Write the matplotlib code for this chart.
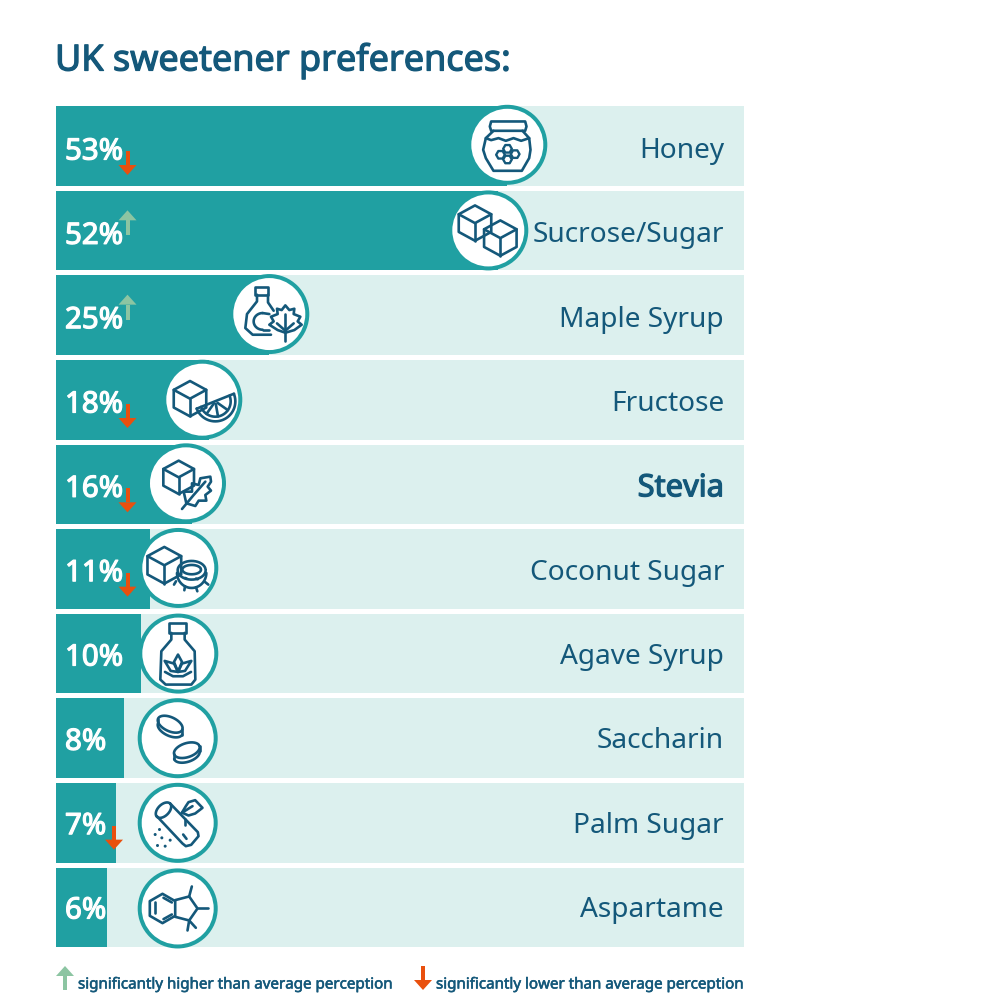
import numpy as np
import matplotlib
matplotlib.use("Agg")
import matplotlib.pyplot as plt
import matplotlib.patheffects as pe
from matplotlib.patches import Circle, Polygon, Rectangle

# data
categories = ["Honey", "Sucrose/Sugar", "Maple Syrup", "Fructose", "Stevia",
              "Coconut Sugar", "Agave Syrup", "Saccharin", "Palm Sugar", "Aspartame"]
values = [53, 52, 25, 18, 16, 11, 10, 8, 7, 6]
# 1 = significantly higher, -1 = significantly lower, 0 = nothing
changes = [-1, 1, 1, -1, -1, -1, 0, 0, -1, 0]
title = "UK sweetener preferences:"
legend_high = "significantly higher than average perception"
legend_low = "significantly lower than average perception"

TEAL = "#20a0a2"
LIGHT = "#dcf0ee"
NAVY = "#14587a"
RED = "#e9500e"
GREEN = "#8cc5a2"
FONT = "Noto Sans"

# layout in pixels of the 1000x1000 picture
LEFT, RIGHT, TOP, BOTTOM = 56, 744, 106, 947.3
PITCH = 84.63
TEXT_PITCH = 84.33
BAR_H = 79.6
PX_PER_PCT = 8.5
ring_x = [507.3, 488.3, 269.3, 202.3, 186, 178.3, 178.3, 177.7, 177.7, 177.7]
icon_x = [508.5, 490, 271, 204, 187, 180, 179, 178.5, 178.5, 178.5]
icon_y_shift = [-1, 0, -1, 0, -1, -1, 0, 0, 0, 1]

fig = plt.figure(figsize=(10, 10), dpi=100)

# bars
ax = fig.add_axes([LEFT / 1000, 1 - BOTTOM / 1000, (RIGHT - LEFT) / 1000, (BOTTOM - TOP) / 1000])
rows = np.arange(len(categories))
x_max = (RIGHT - LEFT) / PX_PER_PCT
ax.barh(rows, [x_max] * len(rows), height=BAR_H / PITCH, color=LIGHT)
ax.barh(rows, values, height=BAR_H / PITCH, color=TEAL)
ax.set_xlim(0, x_max)
ax.set_ylim(len(rows) - 1 + BAR_H / PITCH / 2, -BAR_H / PITCH / 2)
ax.axis("off")

# everything else sits on a pixel overlay
ov = fig.add_axes([0, 0, 1, 1], zorder=5)
ov.set_xlim(0, 1000)
ov.set_ylim(1000, 0)
ov.axis("off")
ov.patch.set_alpha(0)


def bold_text(x, y, s, size, color, stroke=0.7, **kw):
    # Noto Sans is only installed as a regular weight here, so thicken it
    t = ov.text(x, y, s, fontsize=size, color=color, family=FONT, va="center", **kw)
    t.set_path_effects([pe.withStroke(linewidth=stroke, foreground=color)])
    return t


def line(cx, cy, pts, closed=False, lw=1.9):
    # pts are offsets in 3x pixels from the icon centre
    xy = [(cx + p[0] / 3, cy + p[1] / 3) for p in pts]
    ov.add_patch(Polygon(xy, closed=closed, fill=False, edgecolor=NAVY,
                         lw=lw, joinstyle="round", capstyle="round", zorder=8))


def curve(cx, cy, x0, y0, rx, ry, a0, a1, angle=0, lw=1.9):
    t = np.radians(np.linspace(a0, a1, 40))
    r = np.radians(angle)
    x = rx * np.cos(t)
    y = ry * np.sin(t)
    xs = x0 + x * np.cos(r) - y * np.sin(r)
    ys = y0 + x * np.sin(r) + y * np.cos(r)
    line(cx, cy, list(zip(xs, ys)), lw=lw)


def cube(cx, cy, x0, y0, r):
    w = r * 0.92
    h = r * 0.5
    line(cx, cy, [(x0, y0 - r), (x0 + w, y0 - h), (x0 + w, y0 + h), (x0, y0 + r),
                  (x0 - w, y0 + h), (x0 - w, y0 - h)], closed=True)
    line(cx, cy, [(x0 - w, y0 - h), (x0, y0), (x0 + w, y0 - h)])
    line(cx, cy, [(x0, y0), (x0, y0 + r)])


def hexagon(cx, cy, x0, y0, r):
    a = np.radians(np.arange(0, 360, 60))
    line(cx, cy, list(zip(x0 + r * np.cos(a), y0 + r * np.sin(a))), closed=True, lw=1.7)


def honey_icon(cx, cy):
    line(cx, cy, [(-52, -70), (50, -70), (54, -55), (50, -42), (-52, -42), (-56, -55)], closed=True)
    line(cx, cy, [(-45, -42), (-68, -20), (-52, -14), (-30, -20), (-8, -12), (15, -20), (38, -12), (62, -20), (42, -42)])
    line(cx, cy, [(-68, -20), (-76, 15), (-68, 40), (-45, 78), (40, 78), (62, 40), (66, 15), (62, -20)])
    for hx, hy in [(-3, 12), (-24, 30), (-3, 44), (20, 28)]:
        hexagon(cx, cy, hx, hy, 13)


def sugar_icon(cx, cy):
    cube(cx, cy, -45, -22, 53)
    cube(cx, cy, 31, 23, 53)


def maple_icon(cx, cy):
    line(cx, cy, [(-47, -81), (-9, -81), (-9, -58), (-47, -58)], closed=True)
    line(cx, cy, [(-42, -58), (-42, -38), (-72, 0), (-77, 42), (-55, 62), (0, 62)])
    line(cx, cy, [(-9, -58), (-9, -35), (8, -10)])
    curve(cx, cy, -25, 22, 27, 25, 90, 270)
    line(cx, cy, [(-25, -3), (-5, 0)])
    line(cx, cy, [(-25, 47), (-5, 47)])
    line(cx, cy, [(43, -26), (55, -12), (70, -16), (68, 0), (88, 8), (80, 22), (92, 32), (70, 48),
                  (43, 56), (20, 48), (-5, 32), (8, 22), (0, 8), (20, 0), (18, -16), (32, -12)], closed=True)
    line(cx, cy, [(43, 0), (43, 82)])
    line(cx, cy, [(43, 50), (18, 28)])
    line(cx, cy, [(43, 50), (68, 28)])


def fructose_icon(cx, cy):
    cube(cx, cy, -42, -3, 53)
    curve(cx, cy, 34, 5, 60, 60, -22, 159)
    curve(cx, cy, 34, 5, 46, 46, -22, 159)
    line(cx, cy, [(-22, 27), (90, -18)])
    for a in (35, 80, 125):
        t = np.radians(a)
        line(cx, cy, [(34 + 8 * np.cos(t), 5 + 8 * np.sin(t)), (34 + 46 * np.cos(t), 5 + 46 * np.sin(t))])


def stevia_icon(cx, cy):
    cube(cx, cy, -25, -18, 50)
    line(cx, cy, [(-15, 77), (20, 35), (55, -5)])
    line(cx, cy, [(-2, 60), (-10, 25), (15, 25), (15, 0), (35, 5), (40, -15), (70, -20), (72, -5),
                  (62, 10), (72, 22), (55, 35), (58, 52), (35, 52), (25, 68)], closed=True)


def coconut_icon(cx, cy):
    cube(cx, cy, -47, -8, 55)
    curve(cx, cy, 35, 7, 42, 28, 0, 360)
    curve(cx, cy, 35, 5, 28, 14, 0, 360)
    curve(cx, cy, 35, 15, 44, 45, 0, 180)
    for hx, hy, dx, dy in [(-12, 40, -6, 10), (15, 55, -2, 12), (48, 58, 4, 12), (75, 42, 10, 8)]:
        line(cx, cy, [(hx, hy), (hx + dx, hy + dy)])
    line(cx, cy, [(15, 30), (20, 32)])
    line(cx, cy, [(48, 32), (53, 34)])


def agave_icon(cx, cy):
    line(cx, cy, [(-30, -92), (20, -92), (20, -62), (-30, -62)], closed=True)
    line(cx, cy, [(-23, -62), (-23, -42), (-53, -7), (-56, 78), (-40, 93), (37, 93), (49, 78), (47, -7), (17, -42), (17, -62)])
    line(cx, cy, [(-3, 3), (-15, 25), (-3, 55), (9, 25)], closed=True)
    line(cx, cy, [(-43, 22), (-15, 30), (-3, 55), (-25, 52)], closed=True)
    line(cx, cy, [(37, 22), (9, 30), (-3, 55), (18, 52)], closed=True)
    line(cx, cy, [(-42, 55), (-18, 68), (12, 68), (36, 55)])


def pill(cx, cy, x0, y0, angle):
    curve(cx, cy, x0, y0 - 7, 40, 21, 0, 360, angle=angle)
    curve(cx, cy, x0, y0 + 7, 40, 21, 0, 180, angle=angle)
    r = np.radians(angle)
    for s in (-1, 1):
        px = x0 + s * 40 * np.cos(r)
        py = y0 + s * 40 * np.sin(r)
        line(cx, cy, [(px, py - 7), (px, py + 7)])


def saccharin_icon(cx, cy):
    pill(cx, cy, -25, -35, 25)
    pill(cx, cy, 25, 43, -18)


def palm_icon(cx, cy):
    curve(cx, cy, -45, -38, 28, 17, 0, 360, angle=-45)
    line(cx, cy, [(-65, -20), (12, 62), (22, 70), (38, 66), (60, 40), (58, 28), (-25, -58)])
    line(cx, cy, [(18, 5), (18, -12)])
    line(cx, cy, [(14, 35), (24, 48)])
    line(cx, cy, [(10, -30), (22, -50), (30, -62), (50, -68), (72, -45), (50, -28), (30, -22), (12, -30)], closed=True)
    line(cx, cy, [(10, -30), (42, -50)])
    for dx, dy in [(-57, 20), (-70, 35), (-50, 45), (-25, 52), (-63, 68), (-40, 70)]:
        ov.add_patch(Circle((cx + dx / 3, cy + dy / 3), 1.5, color=NAVY, lw=0, zorder=8))


def aspartame_icon(cx, cy):
    a = np.radians(np.arange(30, 390, 60))
    line(cx, cy, list(zip(-48 + 44 * np.cos(a), 0 + 44 * np.sin(a))), closed=True)
    line(cx, cy, [(-70, -18), (-70, 14)])
    line(cx, cy, [(-45, 32), (-20, 18)])
    line(cx, cy, [(-45, -32), (-20, -18)])
    line(cx, cy, [(-10, -25), (32, -36), (57, 0), (32, 36), (-10, 25)])
    line(cx, cy, [(32, -36), (40, -66)])
    line(cx, cy, [(57, 0), (87, 0)])
    line(cx, cy, [(32, 36), (27, 66)])
    line(cx, cy, [(32, 36), (52, 58)])


icons = [honey_icon, sugar_icon, maple_icon, fructose_icon, stevia_icon,
         coconut_icon, agave_icon, saccharin_icon, palm_icon, aspartame_icon]


def arrow(x, y0, y1, color):
    # y0 is the tail, y1 the tip
    d = 1 if y1 > y0 else -1
    ov.add_patch(Rectangle((x - 2, min(y0, y1 - d * 10)), 4, abs(y1 - y0) - 10, color=color, lw=0, zorder=9))
    ov.add_patch(Polygon([(x - 9, y1 - d * 10), (x + 9, y1 - d * 10), (x, y1)], color=color, lw=0, zorder=9))


bold_text(55, 61, title, 25.9, NAVY, stroke=0.9, ha="left")

for i, name in enumerate(categories):
    yc = TOP + BAR_H / 2 + i * PITCH
    cy = yc + icon_y_shift[i]
    ov.add_patch(Circle((ring_x[i], cy), 40, facecolor=TEAL, lw=0, zorder=6))
    ov.add_patch(Circle((ring_x[i], cy), 36, facecolor="white", lw=0, zorder=7))
    icons[i](icon_x[i], cy)

    # the texts run on a slightly tighter pitch than the bars
    y_name = 151 + i * TEXT_PITCH
    y_pct = 151 + i * TEXT_PITCH
    if name == "Stevia":
        bold_text(724, y_name, name, 22.2, NAVY, stroke=0.9, ha="right")
    else:
        ov.text(724, y_name, name, fontsize=20.2, color=NAVY, family=FONT, ha="right", va="center")
    bold_text(65, y_pct + 1, f"{values[i]}%", 21.2, "white", stroke=0.9, ha="left", zorder=8)

    ax_x = 114 if name == "Palm Sugar" else 127.5
    if changes[i] < 0:
        arrow(ax_x, y_pct, y_pct + 24, RED)
    elif changes[i] > 0:
        arrow(ax_x, y_pct, y_pct - 25, GREEN)

# legend
arrow(65, 990, 966, GREEN)
arrow(423, 966, 990, RED)
bold_text(78, 985, legend_high, 10.9, NAVY, stroke=0.4, ha="left")
bold_text(436, 985, legend_low, 10.9, NAVY, stroke=0.4, ha="left")

fig.savefig("out.png", dpi=100)
